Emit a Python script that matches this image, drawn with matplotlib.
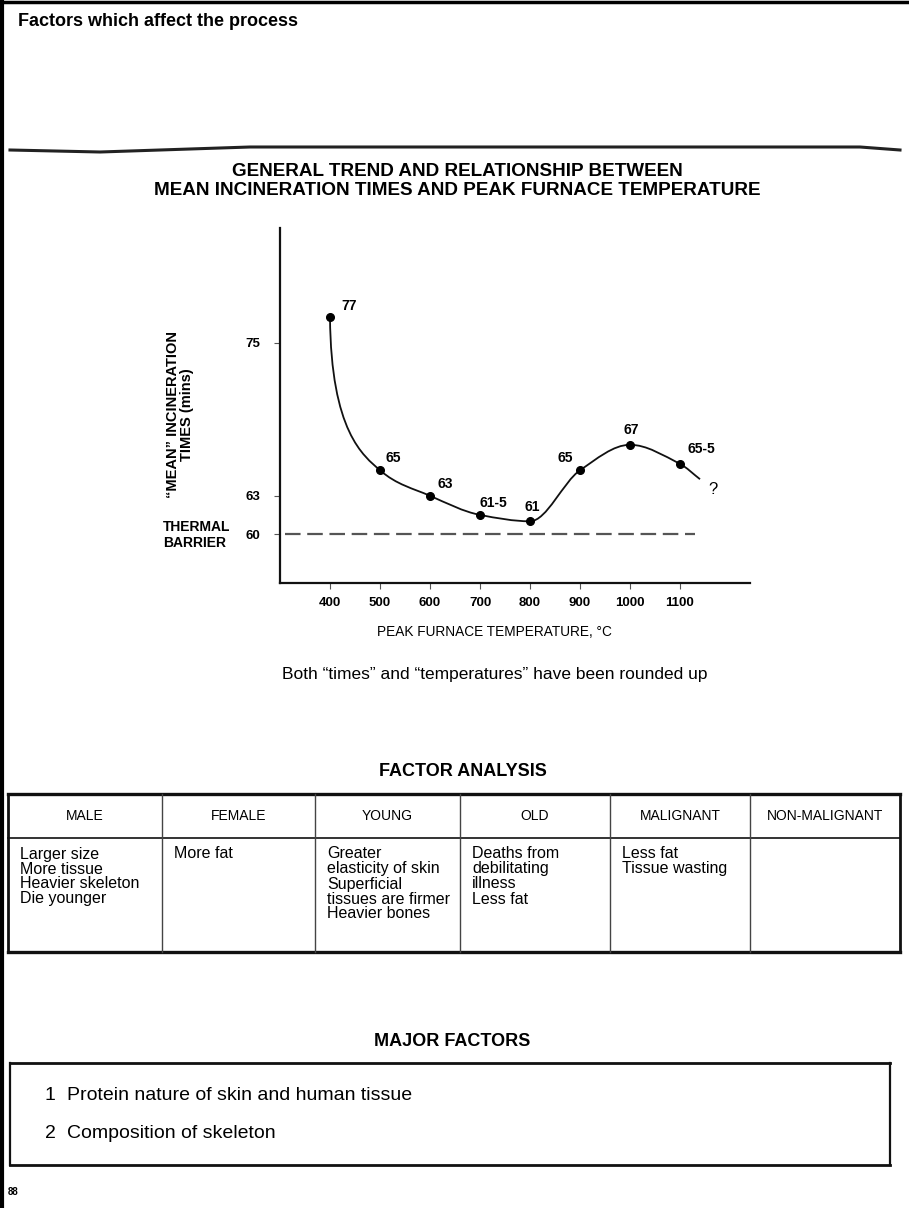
import numpy as np
import matplotlib
matplotlib.use("Agg")
import matplotlib.pyplot as plt
from matplotlib.path import Path
from matplotlib.patches import PathPatch
from matplotlib.lines import Line2D

plt.rcParams['font.family'] = ['Liberation Sans', 'DejaVu Sans']

# ---------------- data ----------------
temps = [400, 500, 600, 700, 800, 900, 1000, 1100]
times = [77, 65, 63, 61.5, 61, 65, 67, 65.5]
point_labels = ["77", "65", "63", "61-5", "61", "65", "67", "65-5"]
tail_temp = 1140
tail_time = 64.3
barrier_time = 60
barrier_span = [310, 1130]
x_ticks = [400, 500, 600, 700, 800, 900, 1000, 1100]
y_ticks = [60, 63, 75]

table_headers = ["MALE", "FEMALE", "YOUNG", "OLD", "MALIGNANT", "NON-MALIGNANT"]
table_cells = [
    ["Larger size", "More tissue", "Heavier skeleton", "Die younger"],
    ["More fat"],
    ["Greater", "elasticity of skin", "Superficial", "tissues are firmer", "Heavier bones"],
    ["Deaths from", "debilitating", "illness", "Less fat"],
    ["Less fat", "Tissue wasting"],
    [],
]
major_factors = ["Protein nature of skin and human tissue", "Composition of skeleton"]

W, H = 909, 1208
fig = plt.figure(figsize=(W / 100, H / 100), dpi=100)
fig.patch.set_facecolor("white")

def fx(x):
    return x / W

def fy(y):
    return 1 - y / H

def ftext(x, y, s, **kw):
    fig.text(fx(x), fy(y), s, **kw)

def fline(xs, ys, **kw):
    fig.add_artist(Line2D([fx(v) for v in xs], [fy(v) for v in ys], transform=fig.transFigure, **kw))

# page border (top and left)
fline([0, W], [1.5, 1.5], color="black", lw=2.5)
fline([1.5, 1.5], [0, H], color="black", lw=3)

# page header
ftext(18, 22, "Factors which affect the process", fontsize=13, fontweight="bold", va="center", ha="left")
fline([10, 100, 250, 860, 900], [150, 152, 147, 147, 150], color="#222222", lw=2.2)

# chart title
ftext(457, 172, "GENERAL TREND AND RELATIONSHIP BETWEEN", fontsize=13.6, fontweight="bold", ha="center", va="center")
ftext(457, 191, "MEAN INCINERATION TIMES AND PEAK FURNACE TEMPERATURE", fontsize=13.6, fontweight="bold", ha="center", va="center")

# ---------------- chart ----------------
ax_l, ax_r, ax_t, ax_b = 280, 750, 228, 583
ax = fig.add_axes([fx(ax_l), fy(ax_b), (ax_r - ax_l) / W, (ax_b - ax_t) / H])
ax.set_xlim(300, 1240)
ax.set_ylim(56.16, 84)
for s in ["top", "right"]:
    ax.spines[s].set_visible(False)
for s in ["left", "bottom"]:
    ax.spines[s].set_linewidth(1.6)
    ax.spines[s].set_color("#111111")
ax.set_xticks(x_ticks)
ax.set_xticklabels([str(t) for t in x_ticks], fontsize=9.5, fontweight="bold")
ax.set_yticks(y_ticks)
ax.set_yticklabels([str(t) for t in y_ticks], fontsize=9.5, fontweight="bold")
ax.tick_params(axis="both", length=4, width=0.8, color="#555555", pad=6)
ax.tick_params(axis="y", pad=10)
ax.patch.set_alpha(0)

# smooth curve through the points (cubic Bezier with PCHIP-like slopes)
xs = np.array(temps + [tail_temp], dtype=float)
ys = np.array(times + [tail_time], dtype=float)
d = np.diff(ys) / np.diff(xs)
m = np.zeros_like(xs)
for i in range(1, len(xs) - 1):
    if d[i - 1] * d[i] <= 0:
        m[i] = 0.0
    else:
        m[i] = 2.0 / (1.0 / d[i - 1] + 1.0 / d[i])
m[-1] = d[-1]
verts = [(xs[0], ys[0])]
codes = [Path.MOVETO]
for i in range(len(xs) - 1):
    h = xs[i + 1] - xs[i]
    if i == 0:
        c1 = (xs[0] + h * 0.02, ys[0] - 0.75 * (ys[0] - ys[1]))
    else:
        c1 = (xs[i] + h / 3, ys[i] + m[i] * h / 3)
    c2 = (xs[i + 1] - h / 3, ys[i + 1] - m[i + 1] * h / 3)
    verts += [c1, c2, (xs[i + 1], ys[i + 1])]
    codes += [Path.CURVE4, Path.CURVE4, Path.CURVE4]
ax.add_patch(PathPatch(Path(verts, codes), facecolor="none", edgecolor="#111111", lw=1.3))

ax.plot(temps, times, "o", color="black", markersize=5.5, zorder=5)

offsets = [(19, 11), (13, 12), (15, 12), (13, 12), (2, 14), (-15, 12), (1, 15), (21, 15)]
for t, v, lab, off in zip(temps, times, point_labels, offsets):
    ax.annotate(lab, (t, v), xytext=off, textcoords="offset pixels", fontsize=10,
                fontweight="bold", ha="center", va="center")
ax.annotate("?", (tail_temp, tail_time), xytext=(13, -10), textcoords="offset pixels",
            fontsize=12, ha="center", va="center")

barrier, = ax.plot(barrier_span, [barrier_time, barrier_time], color="#555555", lw=1.6)
barrier.set_dashes((7, 3))

ftext(494, 632, "PEAK FURNACE TEMPERATURE, °C", fontsize=9.8, ha="center", va="center")
fig.text(fx(180), fy(415), "\u201cMEAN\u201d INCINERATION\nTIMES (mins)", rotation=90, fontsize=10.5,
         fontweight="bold", ha="center", va="center", linespacing=1.0)
ftext(163, 535, "THERMAL\nBARRIER", fontsize=10, fontweight="bold", ha="left", va="center", linespacing=1.2)

ftext(495, 674, "Both \u201ctimes\u201d and \u201ctemperatures\u201d have been rounded up", fontsize=12.5,
      ha="center", va="center")

# ---------------- factor analysis table ----------------
ftext(463, 772, "FACTOR ANALYSIS", fontsize=13, fontweight="bold", ha="center", va="center")
col_edges = [8, 162, 315, 460, 610, 750, 900]
t_top, t_head, t_bot = 794, 838, 952
fline([col_edges[0], col_edges[-1]], [t_top, t_top], color="#111111", lw=2.4)
fline([col_edges[0], col_edges[-1]], [t_bot, t_bot], color="#111111", lw=2.4)
fline([col_edges[0], col_edges[-1]], [t_head, t_head], color="#333333", lw=1.4)
fline([col_edges[0], col_edges[0]], [t_top, t_bot], color="#111111", lw=2.0)
fline([col_edges[-1], col_edges[-1]], [t_top, t_bot], color="#111111", lw=2.0)
for xe in col_edges[1:-1]:
    fline([xe, xe], [t_top, t_bot], color="#444444", lw=1.0)
for i, hdr in enumerate(table_headers):
    cx = (col_edges[i] + col_edges[i + 1]) / 2
    ftext(cx, 816, hdr, fontsize=10, ha="center", va="center")
for i, lines in enumerate(table_cells):
    for j, ln in enumerate(lines):
        ftext(col_edges[i] + 12, 854 + 15 * j, ln, fontsize=11.5, ha="left", va="center")

# ---------------- major factors ----------------
ftext(452, 1042, "MAJOR FACTORS", fontsize=13, fontweight="bold", ha="center", va="center")
b_l, b_r, b_t, b_b = 10, 890, 1063, 1165
fline([b_l, b_r], [b_t, b_t], color="#111111", lw=2.0)
fline([b_l, b_r], [b_b, b_b], color="#111111", lw=2.0)
fline([b_l, b_l], [b_t, b_b], color="#111111", lw=1.6)
fline([b_r, b_r], [b_t, b_b], color="#111111", lw=1.6)
for k, item in enumerate(major_factors):
    yy = 1096 + 38 * k
    ftext(45, yy, str(k + 1), fontsize=14, ha="left", va="center")
    ftext(67, yy, item, fontsize=14, ha="left", va="center")

ftext(8, 1192, "88", fontsize=7, fontweight="bold", ha="left", va="center")

fig.savefig("out.png", dpi=100)
